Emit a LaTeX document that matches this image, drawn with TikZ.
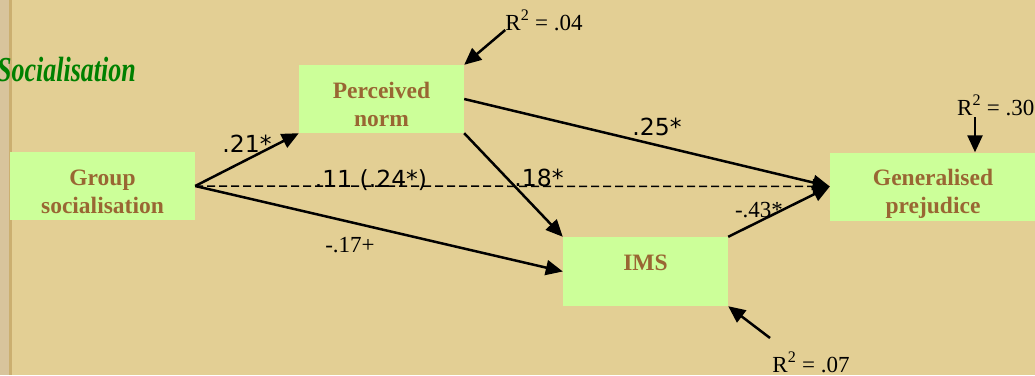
\documentclass[tikz,border=0pt]{standalone}
\usepackage{fontspec}
\setmainfont{Liberation Serif}
\newfontfamily\pathfont{DejaVu Sans}
\usetikzlibrary{positioning,arrows,arrows.meta}
\definecolor{bgtan}{HTML}{E3CF94}
\definecolor{boxgreen}{HTML}{CCFF99}
\definecolor{boxbrown}{HTML}{996633}
\definecolor{titlegreen}{HTML}{008000}
\definecolor{stripA}{HTML}{D8C49C}
\definecolor{stripB}{HTML}{CBAF70}
\newcommand\boxstrut{\rule{0pt}{26pt}}
\tikzset{
  var_box/.style = {rectangle, fill=boxgreen, inner sep=0pt, align=center,
    text=boxbrown, font=\fontsize{23.5}{28}\selectfont\bfseries,
    minimum width=165pt, minimum height=68pt, text depth=0pt},
  path_lbl/.style = {anchor=base, inner sep=0pt,
    font=\pathfont\fontsize{23.5}{28}\selectfont},
  serif_lbl/.style = {anchor=base, inner sep=0pt,
    font=\fontsize{23}{27}\selectfont},
  path_arr/.style = {->, line width=2.5pt}
}

\begin{document}
\begin{tikzpicture}[x=1pt,y=-1pt,>={Triangle[length=17pt,width=15pt]}]
\fill[bgtan] (0,0) rectangle (1035,375);
\fill[stripA] (0,0) rectangle (9,375);
\fill[stripB] (9,0) rectangle (12,375);
\useasboundingbox (0,0) rectangle (1035,375);

\node[anchor=base west, inner sep=0pt, text=titlegreen,
  font=\fontsize{26}{30}\selectfont\bfseries\itshape] (title) at (-3,81)
  {\scalebox{1}[1.35]{Socialisation}};

% variables
\node[var_box, minimum width=185pt] (grp) at (102.5,186) {\boxstrut Group\\socialisation};
\node[var_box] (norm) at (381.5,99) {\boxstrut Perceived\\norm};
\node[var_box, minimum height=69pt, text depth=17pt] (ims) at (645.5,271.5) {IMS};
\node[var_box, minimum width=206pt] (gen) at (933,186.5) {\boxstrut Generalised\\prejudice};

% paths
\draw[path_arr] (grp.east) -- (norm.south west);
\draw[->, line width=1.5pt, dash pattern=on 8pt off 4pt] (grp.east) -- (gen.west);
\draw[path_arr] (grp.east) -- (ims.west);
\draw[path_arr] (norm.east) -- (gen.west);
\draw[path_arr] (norm.south east) -- (ims.north west);
\draw[path_arr] (ims.north east) -- (gen.west);

\node[path_lbl] (l21) at (247,152) {.21*};
\node[path_lbl] (l11) at (371,187) {.11 (.24*)};
\node[path_lbl] (l18) at (539,186) {.18*};
\node[path_lbl] (l25) at (657,135) {.25*};
\node[serif_lbl] (l17) at (350,252) {-.17+};
\node[serif_lbl] (l43) at (759,217) {-.43*};

% explained variance
\node[serif_lbl] (r2norm) at (544,30) {R\textsuperscript{2} = .04};
\draw[path_arr] (r2norm.base west) -- (norm.north east);
\node[serif_lbl, anchor=base west] (r2gen) at (957,115) {R\textsuperscript{2} = .30};
\coordinate (r2gen_tail) at (975,117);
\draw[path_arr] (r2gen_tail) -- (r2gen_tail |- gen.north);
\node[serif_lbl] (r2ims) at (811,372) {R\textsuperscript{2} = .07};
\coordinate (r2ims_tail) at (770,338);
\draw[path_arr] (r2ims_tail) -- (ims.south east);
\end{tikzpicture}
\end{document}
